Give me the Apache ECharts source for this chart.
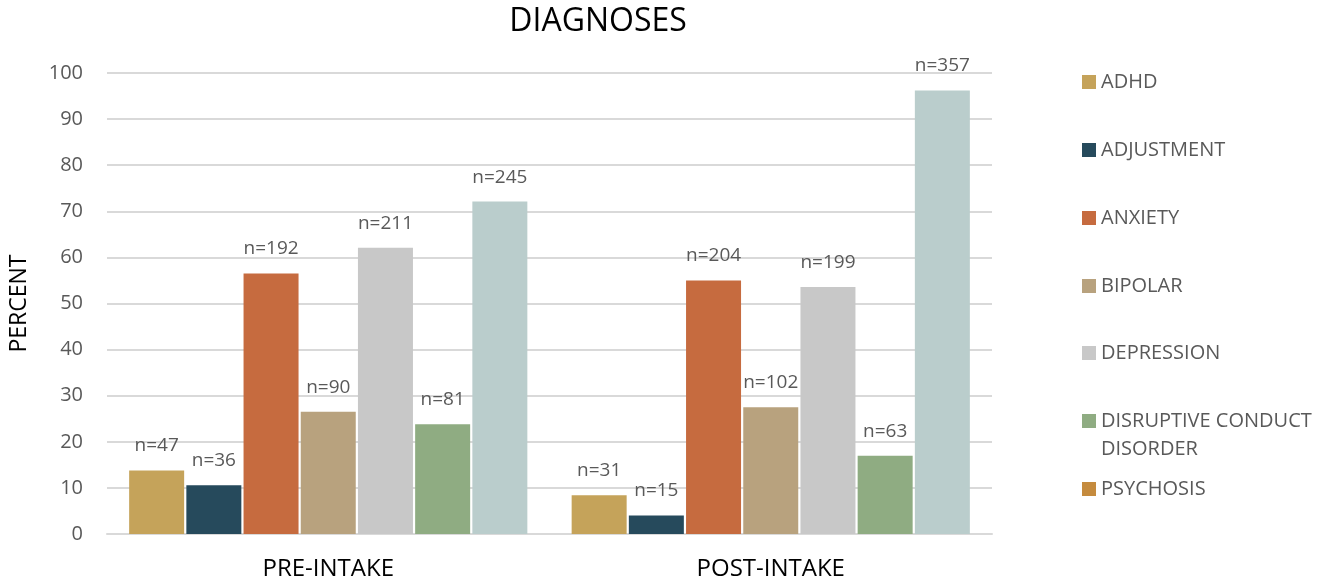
<!DOCTYPE html>
<html>
<head>
<meta charset="utf-8">
<script src="https://cdn.jsdelivr.net/npm/echarts@6/dist/echarts.min.js"></script>
<style>
  html, body { margin: 0; padding: 0; background: #fff; }
  #chart { width: 1331px; height: 587px; }
</style>
</head>
<body>
<div id="chart"></div>
<script>
// Diagnosis shares (percent of patients) before and after intake, with case counts
const categories = ['PRE-INTAKE', 'POST-INTAKE'];
const seriesNames = ['ADHD', 'ADJUSTMENT', 'ANXIETY', 'BIPOLAR', 'DEPRESSION', 'DISRUPTIVE CONDUCT DISORDER', 'PSYCHOSIS'];
const adhd = [13.8, 8.4];
const adjustment = [10.6, 4.0];
const anxiety = [56.5, 55.0];
const bipolar = [26.5, 27.5];
const depression = [62.1, 53.6];
const disruptive = [23.8, 17.0];
const psychosis = [72.1, 96.2];
const counts = [
  [47, 31], [36, 15], [192, 204], [90, 102], [211, 199], [81, 63], [245, 357]
];
const yTicks = [0, 10, 20, 30, 40, 50, 60, 70, 80, 90, 100];

const values = [adhd, adjustment, anxiety, bipolar, depression, disruptive, psychosis];
const barColors = ['#C5A35A', '#264A5C', '#C66B3F', '#B8A27E', '#C8C8C8', '#8FAC82', '#BACDCC'];
const legendColors = ['#C5A35A', '#264A5C', '#C66B3F', '#B8A27E', '#C8C8C8', '#8FAC82', '#C58B3E'];
const legendCenters = [82, 150, 218, 286, 353, 421, 489];

const FONT = '"Open Sans", "Noto Sans", sans-serif';
const GREY = '#595959';

const chart = echarts.init(document.getElementById('chart'), null, { renderer: 'canvas' });

const series = seriesNames.map((name, i) => ({
  name,
  type: 'bar',
  data: values[i],
  barWidth: 55,
  barGap: '4%',
  itemStyle: { color: barColors[i] },
  label: {
    show: true,
    position: 'top',
    distance: 15,
    fontFamily: FONT,
    fontSize: 19,
    color: GREY,
    formatter: p => 'n=' + counts[i][p.dataIndex]
  },
  emphasis: { disabled: true }
}));

const legends = seriesNames.map((name, i) => ({
  left: 1082,
  top: legendCenters[i] - 10,
  padding: 0,
  itemWidth: 14,
  itemHeight: 14,
  itemGap: 5,
  icon: 'rect',
  selectedMode: false,
  data: [{ name, itemStyle: { color: legendColors[i] } }],
  formatter: n => n === 'DISRUPTIVE CONDUCT DISORDER' ? 'DISRUPTIVE CONDUCT' : n,
  textStyle: { fontFamily: FONT, fontSize: 20, lineHeight: 20, color: GREY, padding: [0, 0, 0, 0] }
}));

chart.setOption({
  animation: false,
  backgroundColor: '#fff',
  title: {
    text: 'DIAGNOSES',
    left: 593,
    textAlign: 'center',
    top: 1,
    textStyle: { fontFamily: FONT, fontSize: 32, fontWeight: 'normal', color: '#000' }
  },
  legend: legends,
  graphic: [{
    type: 'text',
    left: 1101,
    top: 439,
    style: { text: 'DISORDER', fontFamily: FONT, fontSize: 20, fill: GREY }
  }],
  grid: { left: 104, right: 339, top: 73, bottom: 53, containLabel: false },
  xAxis: {
    type: 'category',
    data: categories,
    axisLine: { show: true, lineStyle: { color: '#D9D9D9', width: 2 } },
    axisTick: { show: false },
    axisLabel: { fontFamily: FONT, fontSize: 24, color: '#000', margin: 23 }
  },
  yAxis: {
    type: 'value',
    min: yTicks[0],
    max: yTicks[yTicks.length - 1],
    interval: 10,
    name: 'PERCENT',
    nameLocation: 'middle',
    nameGap: 76,
    nameRotate: 90,
    nameTextStyle: { fontFamily: FONT, fontSize: 23, color: '#000' },
    axisLine: { show: false },
    axisTick: { show: false },
    splitLine: { lineStyle: { color: '#D9D9D9', width: 2 } },
    axisLabel: { fontFamily: FONT, fontSize: 20, color: GREY, margin: 24 }
  },
  series
});
</script>
</body>
</html>
